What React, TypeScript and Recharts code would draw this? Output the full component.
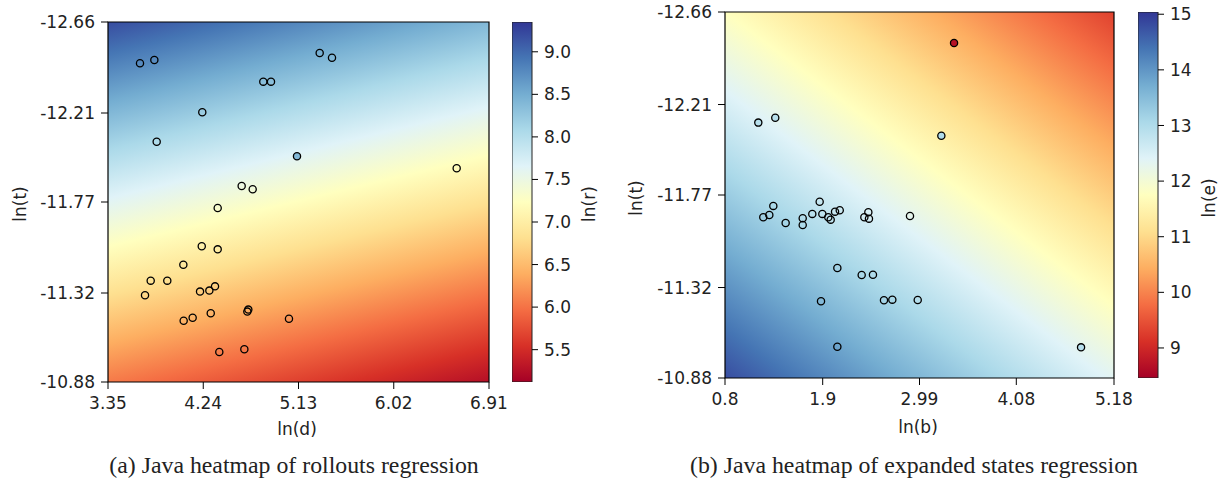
import { ScatterChart, Scatter, XAxis, YAxis, ReferenceArea, BarChart, Bar } from 'recharts';

// RdYlBu colormap, red = low, blue = high
const rdylbu = ['#a50026', '#d73027', '#f46d43', '#fdae61', '#fee090', '#ffffbf', '#e0f3f8', '#abd9e9', '#74add1', '#4575b4', '#313695'];

// (a) rollouts: ln(d) vs ln(t), colour ln(r)
const rolloutXTicks = [3.35, 4.24, 5.13, 6.02, 6.91];
const rolloutYTicks = [-12.66, -12.21, -11.77, -11.32, -10.88];
const rolloutCbarTicks = [5.5, 6.0, 6.5, 7.0, 7.5, 8.0, 8.5, 9.0];
const rolloutCbarRange = [5.12, 9.35];
// regression surface read at the corners: top-left, top-right, bottom-left
const rolloutPlane = [9.2, 8.4, 6.05];
const rolloutPoints = [
  { x: 3.649, y: -12.456 }, { x: 3.783, y: -12.472 }, { x: 4.801, y: -12.365 }, { x: 4.873, y: -12.365 },
  { x: 4.231, y: -12.214 }, { x: 3.805, y: -12.068 }, { x: 4.599, y: -11.849 }, { x: 4.702, y: -11.833 },
  { x: 4.375, y: -11.74 }, { x: 5.328, y: -12.507 }, { x: 5.443, y: -12.483 }, { x: 6.608, y: -11.937 },
  { x: 4.226, y: -11.551 }, { x: 4.375, y: -11.536 }, { x: 4.054, y: -11.46 }, { x: 3.749, y: -11.381 },
  { x: 3.904, y: -11.381 }, { x: 3.696, y: -11.309 }, { x: 4.21, y: -11.327 }, { x: 4.297, y: -11.332 },
  { x: 4.35, y: -11.353 }, { x: 4.661, y: -11.238 }, { x: 4.652, y: -11.228 }, { x: 4.31, y: -11.22 },
  { x: 4.141, y: -11.198 }, { x: 4.057, y: -11.183 }, { x: 5.041, y: -11.193 }, { x: 4.39, y: -11.028 },
  { x: 4.624, y: -11.042 },
];
const rolloutColoured = [{ x: 5.116, y: -11.996, z: 8.4 }];

// (b) expanded states: ln(b) vs ln(t), colour ln(e)
const statesXTicks = [0.8, 1.9, 2.99, 4.08, 5.18];
const statesYTicks = [-12.66, -12.21, -11.77, -11.32, -10.88];
const statesCbarTicks = [9, 10, 11, 12, 13, 14, 15];
const statesCbarRange = [8.46, 15.04];
const statesPlane = [11.75, 9.3, 14.8];
const statesPoints = [
  { x: 1.231, y: -11.662 }, { x: 1.299, y: -11.673 }, { x: 1.344, y: -11.717 }, { x: 1.483, y: -11.634 },
  { x: 1.675, y: -11.657 }, { x: 1.675, y: -11.624 }, { x: 1.783, y: -11.678 }, { x: 1.866, y: -11.737 },
  { x: 1.896, y: -11.678 }, { x: 1.963, y: -11.662 }, { x: 1.99, y: -11.65 }, { x: 2.039, y: -11.689 },
  { x: 2.092, y: -11.696 }, { x: 2.369, y: -11.662 }, { x: 2.414, y: -11.686 }, { x: 2.421, y: -11.655 },
  { x: 2.883, y: -11.668 }, { x: 2.065, y: -11.415 }, { x: 2.339, y: -11.381 }, { x: 2.466, y: -11.382 },
  { x: 1.881, y: -11.253 }, { x: 2.59, y: -11.258 }, { x: 2.684, y: -11.261 }, { x: 2.97, y: -11.259 },
  { x: 2.065, y: -11.032 },
];
const statesColoured = [
  { x: 1.175, y: -12.122, z: 12.9 }, { x: 1.366, y: -12.146, z: 12.9 }, { x: 3.379, y: -12.509, z: 8.7 },
  { x: 3.236, y: -12.058, z: 13.0 }, { x: 4.809, y: -11.029, z: 12.9 },
];

const hexToRgb = (h: string) => [1, 3, 5].map((i) => parseInt(h.slice(i, i + 2), 16));

function colorAt(t: number) {
  const c = Math.max(0, Math.min(1, t)) * (rdylbu.length - 1);
  const i = Math.min(Math.floor(c), rdylbu.length - 2);
  const f = c - i;
  const a = hexToRgb(rdylbu[i]);
  const b = hexToRgb(rdylbu[i + 1]);
  const m = a.map((v, k) => Math.round(v + (b[k] - v) * f));
  return `rgb(${m[0]},${m[1]},${m[2]})`;
}

const stops = rdylbu.map((c, i) => <stop key={i} offset={`${(i / (rdylbu.length - 1)) * 100}%`} stopColor={c} />);

// gradient in bounding-box units following a linear surface z(u, v)
function planeGradient(id: string, plane: number[], range: number[]) {
  const [tl, tr, bl] = plane;
  const b = tr - tl;
  const c = bl - tl;
  const g2 = b * b + c * c;
  const t1 = range[0] - tl;
  const t2 = range[1] - tl;
  return (
    <linearGradient id={id} x1={(t1 * b) / g2} y1={(t1 * c) / g2} x2={(t2 * b) / g2} y2={(t2 * c) / g2}>
      {stops}
    </linearGradient>
  );
}

const tickFont = { fill: '#222', fontSize: 17, fontFamily: 'DejaVu Sans' };

type PanelProps = {
  id: string;
  left: number;
  top: number;
  plotHeight: number;
  width: number;
  yAxisWidth: number;
  xTicks: number[];
  yTicks: number[];
  points: { x: number; y: number }[];
  coloured: { x: number; y: number; z: number }[];
  plane: number[];
  range: number[];
  cbarLeft: number;
  cbarTicks: number[];
  cbarFormat: (v: number) => string;
  cbarAxisWidth: number;
};

function Panel(p: PanelProps) {
  const dot = (props: any) => {
    const z = props.payload?.z;
    const fill = z != null ? colorAt((z - p.range[0]) / (p.range[1] - p.range[0])) : 'none';
    return <circle cx={props.cx} cy={props.cy} r={3.6} fill={fill} stroke="#000" strokeWidth={1.3} />;
  };
  const bottom = 440 - p.top - p.plotHeight - 40;
  return (
    <>
      <div style={{ position: 'absolute', left: p.left, top: 0 }}>
        <ScatterChart width={p.width} height={440} margin={{ top: p.top, right: 51, bottom: bottom, left: 0 }}>
          <defs>{planeGradient(`bg-${p.id}`, p.plane, p.range)}</defs>
          <XAxis
            type="number"
            dataKey="x"
            domain={[p.xTicks[0], p.xTicks[p.xTicks.length - 1]]}
            ticks={p.xTicks}
            allowDataOverflow
            height={40}
            axisLine={false}
            tickSize={7}
            tickMargin={8}
            tickLine={{ stroke: '#000' }}
            tick={tickFont}
            interval={0}
          />
          <YAxis
            type="number"
            dataKey="y"
            reversed
            domain={[p.yTicks[0], p.yTicks[p.yTicks.length - 1]]}
            ticks={p.yTicks}
            allowDataOverflow
            width={p.yAxisWidth}
            axisLine={false}
            tickSize={7}
            tickMargin={6}
            tickLine={{ stroke: '#000' }}
            tick={tickFont}
            interval={0}
          />
          <ReferenceArea
            x1={p.xTicks[0]}
            x2={p.xTicks[p.xTicks.length - 1]}
            y1={p.yTicks[0]}
            y2={p.yTicks[p.yTicks.length - 1]}
            fill={`url(#bg-${p.id})`}
            fillOpacity={1}
            stroke="#000"
            strokeWidth={1.2}
          />
          <Scatter data={p.points} shape={dot} isAnimationActive={false} />
          <Scatter data={p.coloured} shape={dot} isAnimationActive={false} />
        </ScatterChart>
      </div>
      <div style={{ position: 'absolute', left: p.cbarLeft, top: 0 }}>
        <BarChart
          width={20 + p.cbarAxisWidth}
          height={440}
          data={[{ name: 'cbar', range: p.range }]}
          margin={{ top: p.top, right: 0, bottom: 440 - p.top - p.plotHeight, left: 0 }}
          barCategoryGap={0}
        >
          <defs>
            <linearGradient id={`cb-${p.id}`} x1={0} y1={1} x2={0} y2={0}>
              {stops}
            </linearGradient>
          </defs>
          <XAxis dataKey="name" hide />
          <YAxis
            orientation="right"
            type="number"
            domain={p.range}
            allowDataOverflow
            ticks={p.cbarTicks}
            tickFormatter={p.cbarFormat}
            width={p.cbarAxisWidth}
            axisLine={false}
            tickSize={6}
            tickMargin={6}
            tickLine={{ stroke: '#000' }}
            tick={tickFont}
            interval={0}
          />
          <Bar dataKey="range" fill={`url(#cb-${p.id})`} stroke="#222" strokeWidth={1} isAnimationActive={false} />
        </BarChart>
      </div>
    </>
  );
}

const labelStyle = (x: number, y: number, rotate: boolean, size = 17, family = 'DejaVu Sans'): React.CSSProperties => ({
  position: 'absolute',
  left: x,
  top: y,
  transform: `translate(-50%, -50%)${rotate ? ' rotate(-90deg)' : ''}`,
  whiteSpace: 'nowrap',
  lineHeight: 1,
  fontSize: size,
  fontFamily: family,
  color: '#222',
});

export default function App() {
  return (
    <div style={{ position: 'absolute', left: 0, top: 0, width: 1230, height: 483, background: '#fff', overflow: 'hidden' }}>
      <Panel
        id="a"
        left={0}
        top={22}
        plotHeight={360}
        width={540}
        yAxisWidth={108}
        xTicks={rolloutXTicks}
        yTicks={rolloutYTicks}
        points={rolloutPoints}
        coloured={rolloutColoured}
        plane={rolloutPlane}
        range={rolloutCbarRange}
        cbarLeft={512}
        cbarTicks={rolloutCbarTicks}
        cbarFormat={(v) => v.toFixed(1)}
        cbarAxisWidth={60}
      />
      <Panel
        id="b"
        left={615}
        top={12}
        plotHeight={366}
        width={550}
        yAxisWidth={110}
        xTicks={statesXTicks}
        yTicks={statesYTicks}
        points={statesPoints}
        coloured={statesColoured}
        plane={statesPlane}
        range={statesCbarRange}
        cbarLeft={1138}
        cbarTicks={statesCbarTicks}
        cbarFormat={(v) => String(v)}
        cbarAxisWidth={61}
      />
      <div style={labelStyle(20, 204, true)}>ln(t)</div>
      <div style={labelStyle(297, 429, false)}>ln(d)</div>
      <div style={labelStyle(589, 204, true)}>ln(r)</div>
      <div style={labelStyle(636, 198, true)}>ln(t)</div>
      <div style={labelStyle(918, 427, false)}>ln(b)</div>
      <div style={labelStyle(1209, 198, true)}>ln(e)</div>
      <div style={labelStyle(294, 466, false, 23.8, 'Liberation Serif')}>(a) Java heatmap of rollouts regression</div>
      <div style={labelStyle(914, 466, false, 23.8, 'Liberation Serif')}>(b) Java heatmap of expanded states regression</div>
    </div>
  );
}
